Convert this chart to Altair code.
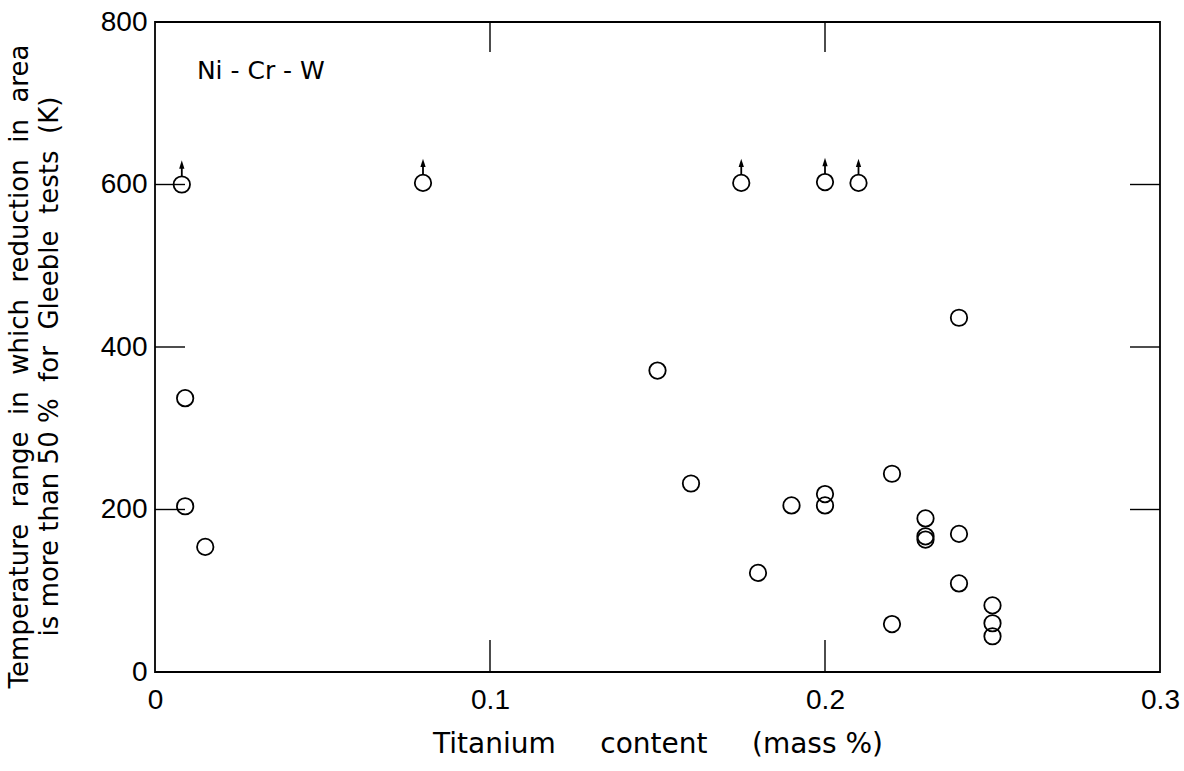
import altair as alt
import pandas as pd

# Titanium content (mass %) and temperature range (K)
ti_content = [0.008, 0.080, 0.175, 0.200, 0.210,
              0.009, 0.009, 0.015, 0.150, 0.160, 0.180, 0.190, 0.200, 0.200,
              0.220, 0.220, 0.230, 0.230, 0.230, 0.240, 0.240, 0.240,
              0.250, 0.250, 0.250]
temp_range = [600, 602, 602, 603, 602,
              337, 204, 154, 371, 232, 122, 205, 219, 205,
              244, 59, 189, 163, 167, 436, 170, 109,
              82, 60, 44]
lower_bound = [True, True, True, True, True] + [False] * 20

x_tick_vals = [0.1, 0.2]
y_tick_vals = [200, 400, 600]
x_label_vals = [0, 0.1, 0.2, 0.3]
y_label_vals = [0, 200, 400, 600, 800]

df = pd.DataFrame({"x": ti_content, "y": temp_range, "lb": lower_bound})
df_arrow = df[df["lb"]]
df_xt = pd.DataFrame({"x": x_tick_vals})
df_yt = pd.DataFrame({"y": y_tick_vals})
df_note = pd.DataFrame({"x": [0.0125], "y": [740], "t": ["Ni\u00a0-\u00a0Cr\u00a0-\u00a0W"]})

FONT = "Liberation Sans"
TFONT = "DejaVu Sans"
W, H = 1005, 650
sp = "\u00a0"

xs = alt.Scale(domain=[0, 0.3], nice=False, zero=False)
ys = alt.Scale(domain=[0, 800], nice=False)

xaxis = alt.Axis(values=x_label_vals, ticks=False, domain=False, grid=False,
                 labelExpr="datum.value == 0 ? '0' : format(datum.value, '.1f')",
                 labelFont=FONT, labelFontSize=28, labelPadding=14, labelColor="black",
                 labelFlush=False,
                 title=f"Titanium{sp*5}content{sp*5}(mass{sp}%)",
                 titleFont=TFONT, titleFontSize=28, titleFontWeight="normal",
                 titleColor="black", titlePadding=16)
yaxis = alt.Axis(values=y_label_vals, ticks=False, domain=False, grid=False,
                 labelFont=FONT, labelFontSize=28, labelPadding=8, labelColor="black",
                 labelFlush=False,
                 title=[f"Temperature{sp}{sp}range{sp}{sp}in{sp}{sp}which{sp}{sp}reduction{sp}{sp}in{sp}{sp}area",
                        f"is{sp}more{sp}than{sp}50{sp}%{sp}{sp}for{sp}{sp}Gleeble{sp}{sp}tests{sp}{sp}(K)"],
                 titleFont=TFONT, titleFontSize=26, titleFontWeight="normal",
                 titleColor="black", titleLineHeight=30, titleAngle=-90,
                 titleX=-149, titleY=344, titleAlign="center", titleBaseline="top")

pts = alt.Chart(df).mark_point(shape="circle", size=270, filled=False,
                               color="black", strokeWidth=1.8, opacity=1).encode(
    x=alt.X("x:Q", scale=xs, axis=xaxis),
    y=alt.Y("y:Q", scale=ys, axis=yaxis),
)

shaft = alt.Chart(df_arrow).mark_rule(color="black", strokeWidth=1.8,
                                       yOffset=-8, y2Offset=-17).encode(
    x="x:Q", y="y:Q", y2="y:Q")

head = alt.Chart(df_arrow).mark_point(shape="M0,-1L-0.5,0.6L0.5,0.6Z", size=110,
                                      filled=True, color="black", opacity=1,
                                      yOffset=-19).encode(x="x:Q", y="y:Q")

tick_b = alt.Chart(df_xt).mark_rule(color="black", strokeWidth=1.4).encode(
    x="x:Q", y=alt.value(H), y2=alt.value(H - 32))
tick_t = alt.Chart(df_xt).mark_rule(color="black", strokeWidth=1.4).encode(
    x="x:Q", y=alt.value(0), y2=alt.value(30))
tick_l = alt.Chart(df_yt).mark_rule(color="black", strokeWidth=1.4).encode(
    y="y:Q", x=alt.value(0), x2=alt.value(30))
tick_r = alt.Chart(df_yt).mark_rule(color="black", strokeWidth=1.4).encode(
    y="y:Q", x=alt.value(W), x2=alt.value(W - 30))

note = alt.Chart(df_note).mark_text(font=TFONT, fontSize=25, align="left",
                                    baseline="middle", color="black").encode(
    x="x:Q", y="y:Q", text="t:N")

chart = alt.layer(tick_b, tick_t, tick_l, tick_r, shaft, head, pts, note).properties(
    width=W, height=H,
    padding={"left": 155, "top": 22, "right": 24, "bottom": 99},
    autosize=alt.AutoSizeParams(type="none"),
    background="white",
).configure_view(stroke="black", strokeWidth=1.8)

chart.save("out.html", embed_options={"renderer": "svg", "actions": False})
